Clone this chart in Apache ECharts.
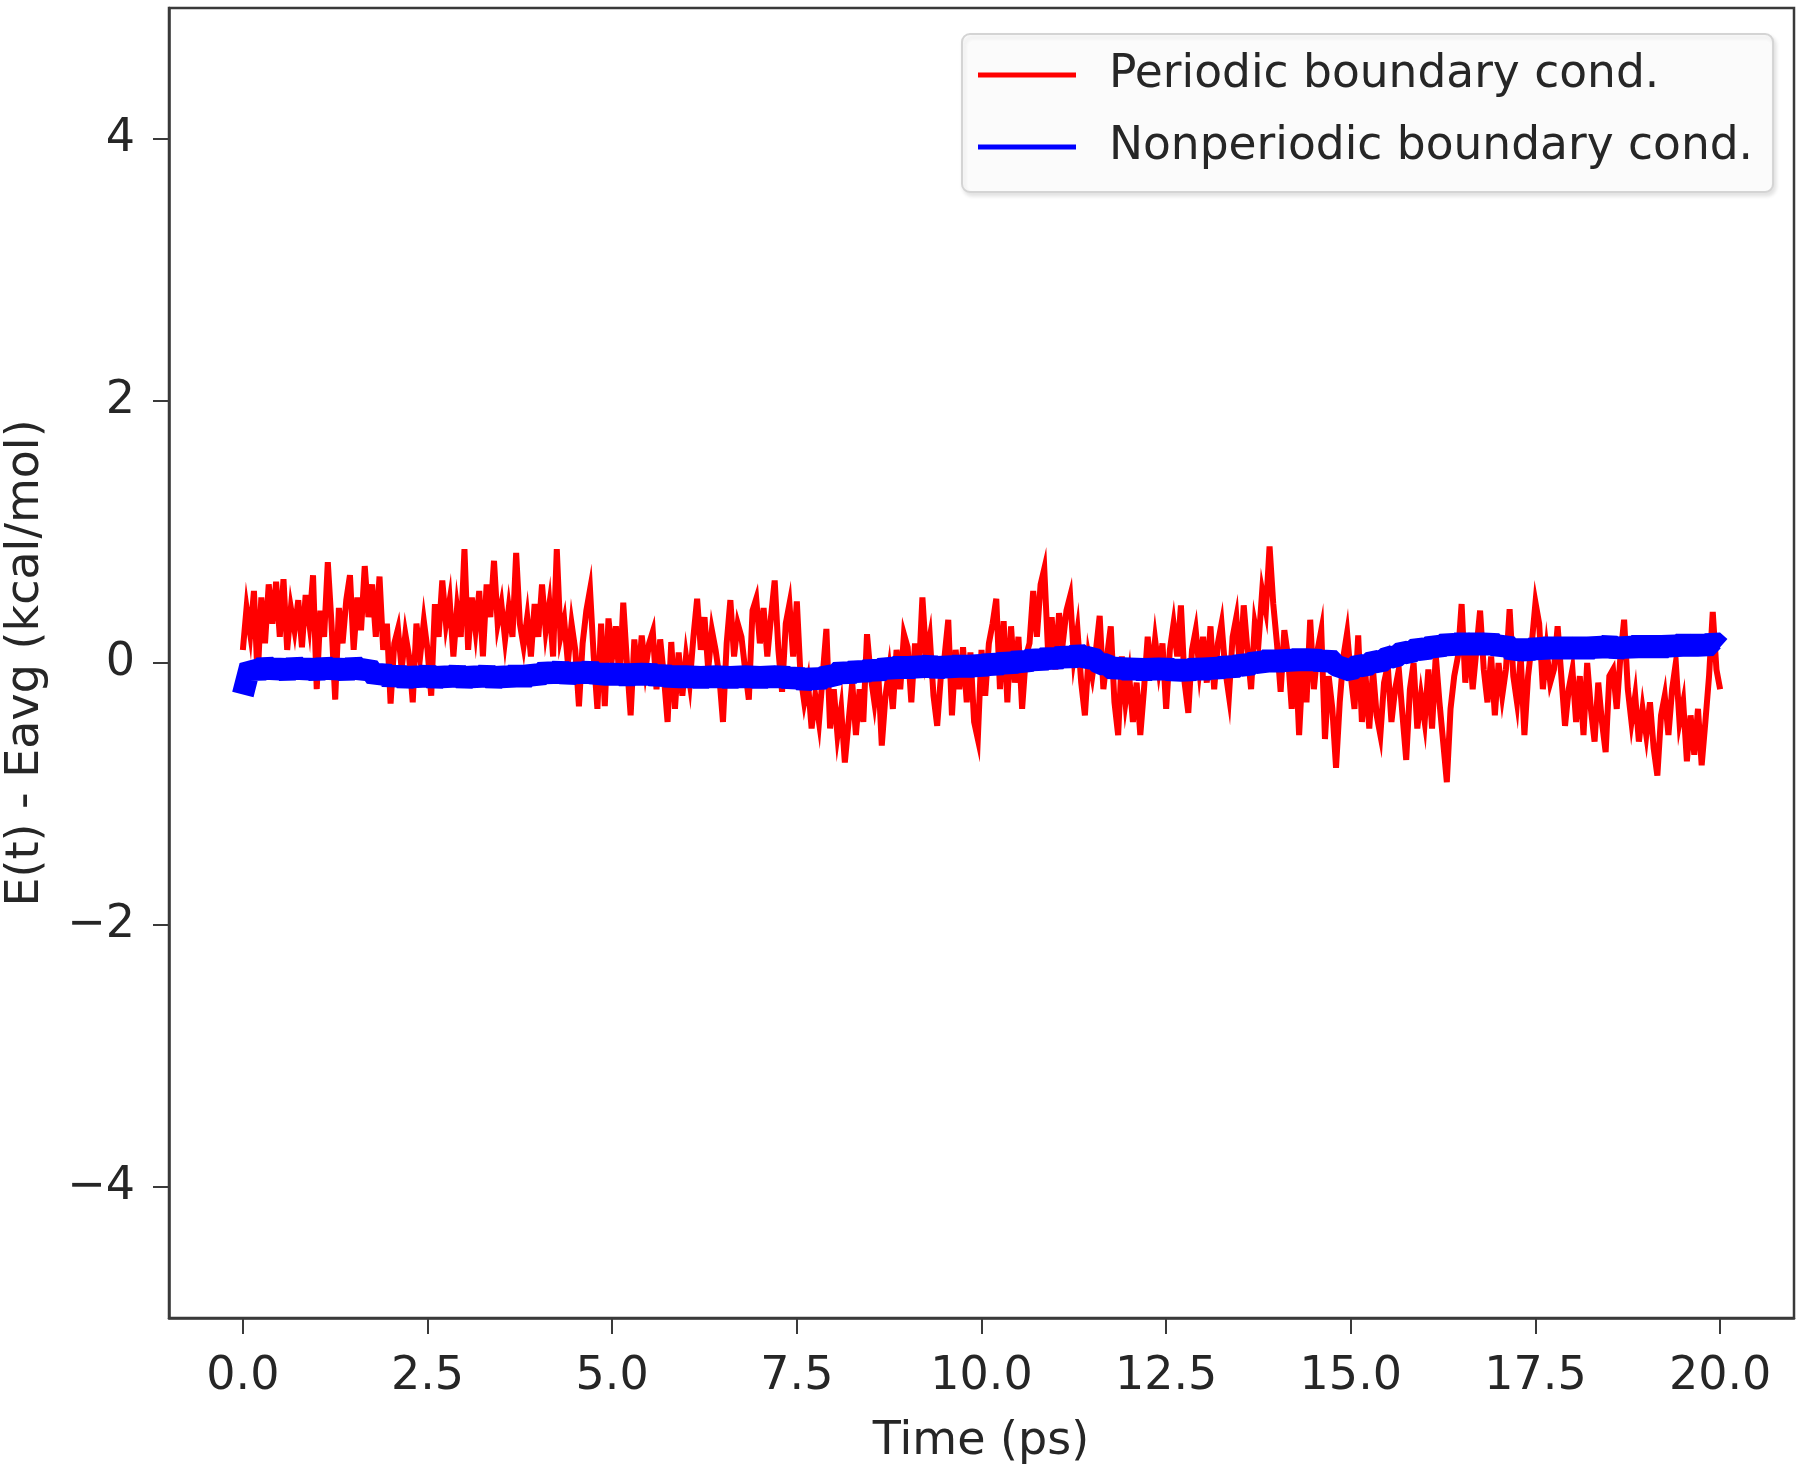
<!DOCTYPE html>
<html>
<head>
<meta charset="utf-8">
<script src="https://cdn.jsdelivr.net/npm/echarts@6/dist/echarts.min.js"></script>
<style>
  html, body { margin: 0; padding: 0; background: #fff; }
  #chart { width: 1800px; height: 1475px; }
</style>
</head>
<body>
<div id="chart"></div>
<script>
// sample spacing of the two traces (ps)
var periodicStep = 0.05;
var nonperiodicStep = 0.1;

// E(t) - Eavg, periodic boundary conditions, one row per ps
var periodicValues = [
  0.10, 0.42, 0.22, 0.55, -0.12, 0.50, 0.15, 0.60, 0.30, 0.62, 0.20, 0.64, 0.10, 0.42, 0.25, 0.48, 0.12, 0.52, 0.30, 0.67,
  -0.20, 0.40, 0.20, 0.77, 0.30, -0.28, 0.42, 0.15, 0.48, 0.67, 0.10, 0.50, 0.25, 0.74, 0.35, 0.60, 0.20, 0.66, 0.10, 0.30,
  -0.31, 0.15, 0.26, -0.05, 0.22, 0.05, -0.30, 0.30, 0.05, 0.32, 0.10, -0.25, 0.45, 0.20, 0.63, 0.30, 0.48, 0.05, 0.42, 0.20,
  0.87, 0.10, 0.50, 0.25, 0.55, 0.05, 0.60, 0.35, 0.78, 0.30, 0.45, 0.18, 0.42, 0.20, 0.84, 0.30, 0.13, 0.35, 0.05, 0.45,
  0.20, 0.60, 0.25, 0.45, 0.05, 0.87, 0.20, 0.33, 0.00, 0.30, 0.10, -0.33, 0.15, 0.40, 0.56, 0.05, -0.35, 0.30, -0.33, 0.34,
  0.05, 0.28, -0.15, 0.46, 0.00, -0.40, 0.18, -0.15, 0.21, -0.05, 0.15, 0.24, -0.20, 0.18, -0.10, -0.45, 0.16, -0.35, 0.08, -0.25,
  0.05, -0.15, 0.20, 0.49, 0.10, 0.35, -0.05, 0.25, 0.10, -0.10, -0.45, 0.15, 0.48, 0.05, 0.30, 0.20, -0.05, -0.28, 0.40, 0.49,
  0.15, 0.42, 0.05, 0.35, 0.63, 0.10, -0.22, 0.30, 0.45, 0.05, 0.47, -0.10, -0.30, -0.15, -0.50, -0.25, -0.45, -0.10, 0.26, -0.50,
  -0.20, -0.55, -0.35, -0.76, -0.45, -0.15, -0.55, -0.20, -0.45, 0.22, -0.10, -0.30, -0.05, -0.63, -0.25, -0.05, -0.35, 0.10, -0.20, 0.22,
  0.12, -0.30, 0.15, -0.10, 0.50, 0.05, 0.20, -0.25, -0.48, -0.10, 0.05, 0.33, -0.40, 0.10, -0.20, 0.12, -0.30, 0.08, -0.45, -0.58,
  0.10, -0.25, 0.15, 0.30, 0.49, -0.20, 0.32, -0.30, 0.28, -0.15, 0.20, -0.35, 0.05, 0.15, 0.55, 0.20, 0.60, 0.72, 0.10, 0.35,
  -0.05, 0.38, 0.15, 0.40, 0.51, 0.05, 0.25, -0.15, -0.40, 0.05, -0.10, 0.10, 0.36, -0.20, 0.05, 0.28, -0.30, -0.55, 0.05, -0.30,
  -0.10, -0.45, -0.15, -0.55, -0.20, 0.20, -0.10, 0.18, -0.05, 0.15, -0.35, 0.10, 0.30, 0.05, 0.44, -0.15, -0.38, 0.10, 0.25, -0.05,
  0.20, -0.15, 0.28, -0.20, 0.15, 0.30, -0.05, -0.25, 0.20, 0.35, -0.05, 0.44, 0.10, -0.20, 0.30, 0.15, 0.55, 0.40, 0.89, 0.45,
  0.15, -0.22, 0.25, 0.05, -0.35, 0.10, -0.55, 0.00, -0.30, 0.33, -0.20, 0.10, 0.25, -0.58, -0.10, -0.35, -0.80, -0.30, 0.05, 0.23,
  -0.10, -0.35, 0.21, -0.45, -0.10, -0.50, -0.05, -0.40, -0.55, -0.15, -0.02, -0.45, -0.20, -0.05, -0.40, -0.74, -0.20, 0.00, -0.50, -0.25,
  -0.45, -0.05, -0.50, 0.06, -0.30, -0.60, -0.91, -0.35, -0.10, 0.05, 0.45, -0.15, 0.20, -0.20, 0.10, 0.40, -0.05, -0.30, 0.05, -0.40,
  0.00, -0.25, -0.05, 0.41, -0.10, -0.30, 0.05, -0.55, -0.10, 0.15, 0.46, 0.30, -0.20, 0.10, -0.15, -0.05, 0.28, -0.10, -0.48, -0.20,
  -0.05, -0.45, -0.10, -0.55, 0.00, -0.35, -0.60, -0.15, -0.45, -0.68, -0.10, -0.05, -0.35, 0.05, 0.33, -0.20, -0.45, -0.25, -0.60, -0.35,
  -0.55, -0.30, -0.65, -0.86, -0.40, -0.25, -0.55, -0.20, 0.00, -0.45, -0.30, -0.75, -0.40, -0.70, -0.35, -0.78, -0.45, -0.10, 0.39, -0.05,
  -0.20
];

// E(t) - Eavg, nonperiodic boundary conditions, one row per ps
var nonperiodicValues = [
  -0.24, -0.02, -0.08, -0.01, -0.07, -0.02, -0.08, -0.01, -0.07, -0.02,
  -0.08, -0.01, -0.07, -0.02, -0.08, -0.01, -0.07, -0.03, -0.11, -0.06,
  -0.13, -0.07, -0.14, -0.08, -0.13, -0.07, -0.14, -0.08, -0.13, -0.07,
  -0.14, -0.08, -0.13, -0.07, -0.14, -0.08, -0.13, -0.07, -0.13, -0.07,
  -0.11, -0.05, -0.10, -0.04, -0.11, -0.05, -0.10, -0.04, -0.11, -0.06,
  -0.11, -0.06, -0.12, -0.06, -0.11, -0.06, -0.12, -0.07, -0.13, -0.08,
  -0.13, -0.08, -0.14, -0.08, -0.13, -0.08, -0.14, -0.08, -0.13, -0.08,
  -0.14, -0.08, -0.13, -0.08, -0.14, -0.09, -0.15, -0.10, -0.14, -0.09,
  -0.11, -0.05, -0.10, -0.04, -0.09, -0.03, -0.08, -0.02, -0.06, -0.01,
  -0.06, -0.01, -0.05, 0.00, -0.06, -0.01, -0.05, 0.00, -0.05, 0.00,
  -0.04, 0.01, -0.03, 0.02, -0.02, 0.03, -0.01, 0.05, 0.00, 0.06,
  0.01, 0.07, 0.02, 0.08, 0.03, 0.05, -0.01, -0.01, -0.06, -0.02,
  -0.07, -0.02, -0.08, -0.02, -0.07, -0.02, -0.08, -0.03, -0.08, -0.02,
  -0.07, -0.02, -0.06, -0.01, -0.05, 0.00, -0.03, 0.02, -0.01, 0.04,
  -0.01, 0.04, 0.00, 0.05, 0.00, 0.05, -0.01, 0.04, -0.02, -0.04,
  -0.06, -0.01, -0.03, 0.02, 0.00, 0.05, 0.04, 0.09, 0.07, 0.12,
  0.09, 0.14, 0.11, 0.16, 0.12, 0.17, 0.12, 0.17, 0.12, 0.17,
  0.11, 0.15, 0.08, 0.12, 0.08, 0.13, 0.09, 0.14, 0.09, 0.14,
  0.09, 0.14, 0.09, 0.14, 0.10, 0.15, 0.09, 0.14, 0.10, 0.15,
  0.10, 0.15, 0.10, 0.15, 0.11, 0.16, 0.11, 0.16, 0.11, 0.17,
  0.12
];

var xTicks = [0, 2.5, 5, 7.5, 10, 12.5, 15, 17.5, 20];
var yTicks = [-4, -2, 0, 2, 4];
var seriesNames = ['Periodic boundary cond.', 'Nonperiodic boundary cond.'];
var xTitle = 'Time (ps)';

function toPairs(values, step) {
  return values.map(function (v, i) {
    return [+(i * step).toFixed(2), v];
  });
}

var font = 'DejaVu Sans';
var ink = '#262626';
var frame = '#3a3a3a';

var chart = echarts.init(document.getElementById('chart'));
var option = {
  animation: false,
  backgroundColor: '#ffffff',
  grid: {
    left: 169,
    right: 6,
    top: 8,
    bottom: 157,
    outerBoundsMode: 'none',
    containLabel: false,
    show: true,
    borderColor: frame,
    borderWidth: 2.5,
    backgroundColor: 'transparent'
  },
  // x axis title placed directly under the plot centre
  graphic: [{
    type: 'text',
    x: 981,
    y: 1442,
    silent: true,
    style: {
      text: xTitle,
      font: '46px "DejaVu Sans"',
      fill: ink,
      textAlign: 'center',
      textVerticalAlign: 'middle',
      verticalAlign: 'middle'
    }
  }],
  legend: {
    orient: 'vertical',
    left: 962,
    top: 34,
    padding: [15, 20, 19, 16],
    itemWidth: 98,
    itemHeight: 5,
    itemGap: 20,
    backgroundColor: 'rgba(255,255,255,0.85)',
    borderColor: '#d4d4d4',
    borderWidth: 2,
    borderRadius: 8,
    shadowColor: 'rgba(0,0,0,0.12)',
    shadowBlur: 4,
    shadowOffsetX: 2,
    shadowOffsetY: 3,
    textStyle: {
      fontFamily: font,
      fontSize: 45.5,
      color: ink,
      lineHeight: 52,
      padding: [0, 0, 0, 28]
    },
    data: [
      { name: seriesNames[0], icon: 'rect' },
      { name: seriesNames[1], icon: 'rect' }
    ]
  },
  xAxis: {
    type: 'value',
    min: -1,
    max: 21,
    axisLine: { show: true, onZero: false, lineStyle: { color: frame, width: 2.5 } },
    axisTick: {
      show: true,
      length: 16,
      customValues: xTicks,
      lineStyle: { color: frame, width: 2 }
    },
    axisLabel: {
      customValues: xTicks,
      margin: 36,
      fontFamily: font,
      fontSize: 46,
      color: ink,
      formatter: function (v) { return v.toFixed(1); }
    },
    splitLine: { show: false }
  },
  yAxis: {
    type: 'value',
    min: -5,
    max: 5,
    name: 'E(t) - Eavg (kcal/mol)',
    nameLocation: 'middle',
    nameGap: 120,
    nameMoveOverlap: false,
    nameTextStyle: { fontFamily: font, fontSize: 46, color: ink },
    axisLine: { show: true, onZero: false, lineStyle: { color: frame, width: 2.5 } },
    axisTick: {
      show: true,
      length: 16,
      customValues: yTicks,
      lineStyle: { color: frame, width: 2 }
    },
    axisLabel: {
      customValues: yTicks,
      margin: 34,
      fontFamily: font,
      fontSize: 46,
      color: ink,
      formatter: function (v) { return v < 0 ? '\u2212' + Math.abs(v) : String(v); }
    },
    splitLine: { show: false }
  },
  series: [
    {
      name: seriesNames[0],
      type: 'line',
      data: toPairs(periodicValues, periodicStep),
      showSymbol: false,
      symbol: 'none',
      color: '#ff0000',
      lineStyle: { color: '#ff0000', width: 6, join: 'miter' },
      z: 2
    },
    {
      name: seriesNames[1],
      type: 'line',
      data: toPairs(nonperiodicValues, nonperiodicStep),
      showSymbol: false,
      symbol: 'none',
      color: '#0000ff',
      lineStyle: { color: '#0000ff', width: 22, join: 'bevel' },
      z: 3
    }
  ]
};
chart.setOption(option);
</script>
</body>
</html>
